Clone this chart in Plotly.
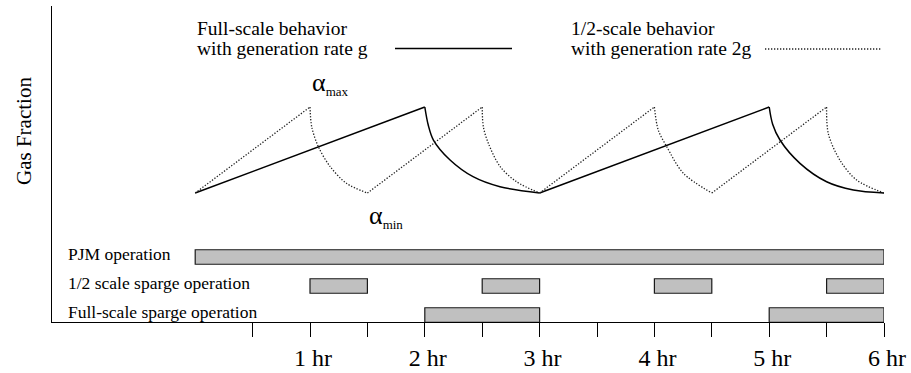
import plotly.graph_objects as go

# ---- gas fraction histories (alpha normalised: alpha_min = 0, alpha_max = 1) ----
# full-scale tank, generation rate g
full_rise_hr = [0.0, 2.0, None, 3.0, 5.0]
full_rise_alpha = [0.0, 1.0, None, 0.0, 1.0]
full_decay_hr = [2.0, 2.03, 2.075, 2.22, 2.42, 2.655, 3.0, None,
                 5.0, 5.03, 5.094, 5.268, 5.5, 5.733, 6.0]
full_decay_alpha = [1.0, 0.79, 0.616, 0.384, 0.19, 0.073, 0.0, None,
                    1.0, 0.80, 0.616, 0.345, 0.131, 0.035, 0.0]

# 1/2-scale tank, generation rate 2g
half_rise_hr = [0.0, 1.0, None, 1.5, 2.5, None, 3.0, 4.0, None, 4.5, 5.5]
half_rise_alpha = [0.0, 1.0, None, 0.0, 1.0, None, 0.0, 1.0, None, 0.0, 1.0]
half_decay_hr = [1.0, 1.015, 1.072, 1.174, 1.32, 1.5, None,
                 2.5, 2.51, 2.553, 2.655, 2.8, 3.0, None,
                 4.0, 4.034, 4.107, 4.252, 4.5, None,
                 5.5, 5.515, 5.617, 5.762, 6.0]
half_decay_alpha = [1.0, 0.77, 0.54, 0.31, 0.11, 0.0, None,
                    1.0, 0.77, 0.58, 0.31, 0.13, 0.0, None,
                    1.0, 0.73, 0.54, 0.23, 0.0, None,
                    1.0, 0.69, 0.38, 0.15, 0.0]

# ---- operating periods (hours) ----
op_rows = ["Full-scale sparge operation", "1/2 scale sparge operation", "PJM operation"]
pjm_start = [0.0]
pjm_end = [6.0]
half_sparge_start = [1.0, 2.5, 4.0, 5.5]
half_sparge_end = [1.5, 3.0, 4.5, 6.0]
full_sparge_start = [2.0, 5.0]
full_sparge_end = [3.0, 6.0]

# ---- time axis ----
hour_ticks = [1.0, 2.0, 3.0, 4.0, 5.0, 6.0]
hour_labels = ["1 hr", "2 hr", "3 hr", "4 hr", "5 hr", "6 hr"]
half_hour_ticks = [0.5, 1.5, 2.5, 3.5, 4.5, 5.5]

# ---- key text ----
key_full = ["Full-scale behavior", "with generation rate g"]
key_half = ["1/2-scale behavior", "with generation rate 2g"]

SERIF = "Liberation Serif, Times New Roman, serif"
W, H = 911, 373
L, R, T, B = 52, 884, 6, 322
PX_PER_HR = 114.8
X0 = 6.0 - (R - L) / PX_PER_HR
ALPHA_PX = 86.0         # pixels between alpha_min and alpha_max
ALPHA_MIN_PX = 193.0    # pixel row of alpha_min
ROW_PX = 29.0           # spacing of the operation rows
ROW0_PX = 315.0         # centre of the lowest operation row


def px_x(px):
    return (px - L) / (R - L)


def px_y(py):
    return (B - py) / (B - T)


fig = go.Figure()

solid = dict(color="black", width=1.5)
dotted = dict(color="#222222", width=1.3, dash="1.3px,1.7px")

fig.add_trace(go.Scatter(x=full_rise_hr, y=full_rise_alpha, mode="lines",
                         line=solid, hoverinfo="skip"))
fig.add_trace(go.Scatter(x=full_decay_hr, y=full_decay_alpha, mode="lines",
                         line=dict(**solid, shape="spline", smoothing=0.9),
                         hoverinfo="skip"))
fig.add_trace(go.Scatter(x=half_rise_hr, y=half_rise_alpha, mode="lines",
                         line=dotted, hoverinfo="skip"))
fig.add_trace(go.Scatter(x=half_decay_hr, y=half_decay_alpha, mode="lines",
                         line=dict(**dotted, shape="spline", smoothing=0.9),
                         hoverinfo="skip"))

# operation bars on a category axis overlaid on the gas-fraction axis
bar_rows, bar_base, bar_len = [], [], []
for row, starts, ends in zip(op_rows,
                             [full_sparge_start, half_sparge_start, pjm_start],
                             [full_sparge_end, half_sparge_end, pjm_end]):
    for s, e in zip(starts, ends):
        bar_rows.append(row)
        bar_base.append(s)
        bar_len.append(e - s)

fig.add_trace(go.Bar(y=bar_rows, x=bar_len, base=bar_base, orientation="h",
                     width=0.5, yaxis="y2",
                     marker=dict(color="#c0c0c0", line=dict(color="#1a1a1a", width=1.2)),
                     hoverinfo="skip"))

annotations = []
for i, row in enumerate(op_rows):
    annotations.append(dict(x=X0 + (66 - L) / PX_PER_HR, y=i, xref="x", yref="y2",
                            text=row, showarrow=False, xanchor="left", yanchor="middle",
                            yshift=3, font=dict(family=SERIF, size=17.5, color="black")))

annotations += [
    dict(x=1.0, y=1.0, xref="x", yref="y", xanchor="left", yanchor="bottom", yshift=6,
         text="α<sub><span style='font-size:13px'>max</span></sub>", showarrow=False,
         font=dict(family=SERIF, size=26, color="black")),
    dict(x=1.5, y=0.0, xref="x", yref="y", xanchor="left", yanchor="top", yshift=-6,
         text="α<sub><span style='font-size:13px'>min</span></sub>", showarrow=False,
         font=dict(family=SERIF, size=26, color="black")),
    dict(x=px_x(24), y=px_y(131), xref="paper", yref="paper", text="Gas Fraction",
         textangle=-90, showarrow=False, xanchor="center", yanchor="middle",
         font=dict(family=SERIF, size=21, color="black")),
]

# two-line key captions: tight line pitch (15px * 1.3) with 19.5px glyphs
for lines, xp in [(key_full, 195), (key_half, 569)]:
    text = "<br>".join(f"<span style='font-size:19.5px'>{s}</span>" for s in lines)
    annotations.append(dict(x=px_x(xp), y=px_y(38), xref="paper", yref="paper",
                            text=text, showarrow=False, xanchor="left", yanchor="middle",
                            align="left", font=dict(family=SERIF, size=15, color="black")))

shapes = [
    dict(type="line", xref="paper", yref="paper", x0=px_x(395), x1=px_x(512),
         y0=px_y(48.5), y1=px_y(48.5), line=dict(color="black", width=1.5)),
    dict(type="line", xref="paper", yref="paper", x0=px_x(765), x1=px_x(882),
         y0=px_y(49), y1=px_y(49), line=dict(color="#222222", width=1.3, dash="1.3px,1.7px")),
]

fig.update_layout(
    width=W, height=H,
    margin=dict(l=L, r=W - R, t=T, b=H - B, pad=0),
    paper_bgcolor="white", plot_bgcolor="white",
    showlegend=False, barmode="overlay",
    annotations=annotations, shapes=shapes,
    xaxis=dict(range=[X0, 6.0], automargin=False, showline=True, linecolor="black",
               linewidth=1.3, ticks="outside", ticklen=14, tickwidth=1.3, tickcolor="black",
               tickvals=hour_ticks, ticktext=hour_labels,
               ticklabelstandoff=0, ticklabelshift=3,
               minor=dict(tickvals=half_hour_ticks, ticks="outside", ticklen=14,
                          tickwidth=1.3, tickcolor="black", showgrid=False),
               tickfont=dict(family=SERIF, size=24, color="black"),
               showgrid=False, zeroline=False, fixedrange=True),
    yaxis=dict(range=[(ALPHA_MIN_PX - B) / ALPHA_PX, (ALPHA_MIN_PX - T) / ALPHA_PX],
               automargin=False, showline=True, linecolor="black", linewidth=1.3,
               ticks="", showticklabels=False, showgrid=False, zeroline=False,
               fixedrange=True),
    yaxis2=dict(overlaying="y", side="left", type="category",
                categoryorder="array", categoryarray=op_rows,
                range=[(ROW0_PX - B) / ROW_PX, (ROW0_PX - T) / ROW_PX],
                automargin=False, showline=False, ticks="", showticklabels=False,
                showgrid=False, zeroline=False, fixedrange=True),
)

fig.write_html("out.html", config={"displayModeBar": False})
